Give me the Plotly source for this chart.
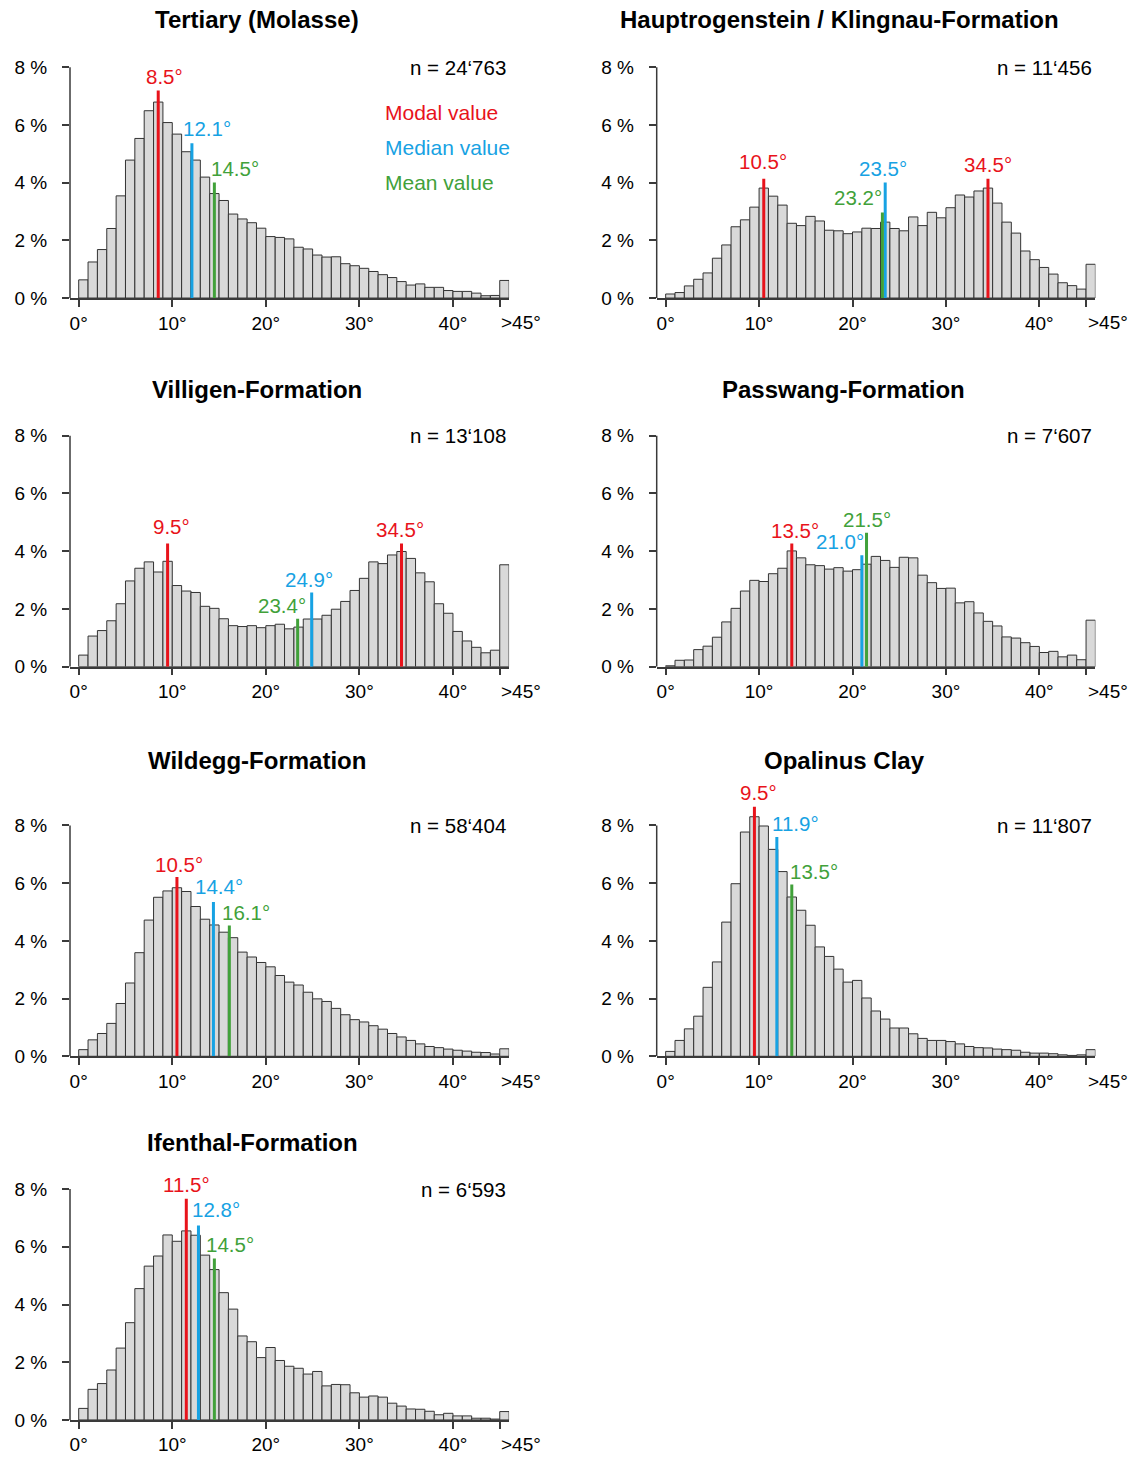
import plotly.graph_objects as go

# ---------------- data ----------------
angle_bins = list(range(46))          # lower edge of 1° classes; class 45 = ">45°"
x_tick_vals = [0, 10, 20, 30, 40, 45]
x_tick_text = ["0°", "10°", "20°", "30°", "40°", ""]
last_class_label = ">45°"
y_tick_vals = [0, 2, 4, 6, 8]
y_tick_text = ["0 %", "2 %", "4 %", "6 %", "8 %"]

titles = ["Tertiary (Molasse)", "Hauptrogenstein / Klingnau-Formation",
          "Villigen-Formation", "Passwang-Formation",
          "Wildegg-Formation", "Opalinus Clay", "Ifenthal-Formation"]
sample_sizes = ["24‘763", "11‘456", "13‘108", "7‘607", "58‘404", "11‘807", "6‘593"]

tertiary = [0.63, 1.25, 1.68, 2.41, 3.54, 4.78, 5.53, 6.49, 6.79, 6.08,
            5.68, 5.07, 4.78, 4.19, 3.62, 3.38, 2.91, 2.74, 2.61, 2.42,
            2.13, 2.10, 2.05, 1.76, 1.70, 1.49, 1.42, 1.43, 1.19, 1.12,
            1.03, 0.92, 0.81, 0.71, 0.57, 0.45, 0.49, 0.37, 0.37, 0.26,
            0.23, 0.23, 0.17, 0.08, 0.09, 0.61]
hauptrogenstein = [0.14, 0.19, 0.42, 0.65, 0.87, 1.38, 1.84, 2.47, 2.71, 3.15,
                   3.81, 3.53, 3.22, 2.59, 2.51, 2.83, 2.67, 2.35, 2.33, 2.23,
                   2.29, 2.42, 2.41, 2.63, 2.41, 2.33, 2.81, 2.51, 2.97, 2.78,
                   3.13, 3.57, 3.50, 3.71, 3.81, 3.29, 2.63, 2.25, 1.63, 1.33,
                   1.06, 0.83, 0.53, 0.43, 0.31, 1.17]
villigen = [0.40, 1.06, 1.25, 1.59, 2.18, 2.97, 3.41, 3.63, 3.28, 3.65,
            2.81, 2.62, 2.57, 2.09, 2.02, 1.66, 1.42, 1.39, 1.42, 1.35,
            1.42, 1.47, 1.31, 1.37, 1.65, 1.65, 1.78, 1.99, 2.26, 2.64,
            3.06, 3.63, 3.57, 3.87, 3.99, 3.75, 3.25, 2.94, 2.18, 1.85,
            1.22, 0.89, 0.67, 0.48, 0.57, 3.53]
passwang = [0.03, 0.22, 0.23, 0.59, 0.71, 1.02, 1.55, 2.02, 2.62, 2.99,
            2.95, 3.22, 3.41, 4.01, 3.77, 3.53, 3.50, 3.38, 3.43, 3.31,
            3.36, 3.55, 3.82, 3.68, 3.44, 3.79, 3.77, 3.17, 2.91, 2.71,
            2.72, 2.21, 2.25, 1.86, 1.57, 1.41, 1.03, 0.99, 0.83, 0.70,
            0.49, 0.53, 0.34, 0.40, 0.24, 1.61]
wildegg = [0.23, 0.57, 0.79, 1.14, 1.83, 2.54, 3.59, 4.72, 5.51, 5.73,
           5.84, 5.71, 5.19, 4.75, 4.55, 4.30, 4.11, 3.61, 3.44, 3.25,
           3.10, 2.80, 2.57, 2.47, 2.22, 1.99, 1.90, 1.66, 1.44, 1.27,
           1.19, 1.06, 0.94, 0.79, 0.67, 0.55, 0.43, 0.34, 0.30, 0.25,
           0.21, 0.18, 0.14, 0.13, 0.08, 0.26]
opalinus = [0.17, 0.55, 0.95, 1.39, 2.39, 3.27, 4.65, 5.98, 7.77, 8.30,
            7.98, 7.17, 6.40, 5.52, 5.06, 4.54, 3.79, 3.46, 3.02, 2.57,
            2.63, 2.02, 1.57, 1.29, 0.98, 0.98, 0.78, 0.62, 0.55, 0.55,
            0.51, 0.43, 0.34, 0.30, 0.29, 0.25, 0.23, 0.21, 0.14, 0.11,
            0.11, 0.09, 0.05, 0.03, 0.05, 0.23]
ifenthal = [0.40, 1.06, 1.26, 1.73, 2.49, 3.37, 4.55, 5.33, 5.68, 6.41,
            6.19, 6.55, 6.40, 5.71, 5.21, 4.41, 3.84, 2.91, 2.71, 2.16,
            2.51, 2.06, 1.86, 1.79, 1.59, 1.68, 1.18, 1.23, 1.22, 0.94,
            0.79, 0.83, 0.79, 0.58, 0.48, 0.38, 0.37, 0.30, 0.18, 0.23,
            0.14, 0.14, 0.06, 0.06, 0.03, 0.29]
series = [tertiary, hauptrogenstein, villigen, passwang, wildegg, opalinus, ifenthal]

modal_values = [[8.5], [10.5, 34.5], [9.5, 34.5], [13.5], [10.5], [9.5], [11.5]]
median_values = [12.1, 23.5, 24.9, 21.0, 14.4, 11.9, 12.8]
mean_values = [14.5, 23.2, 23.4, 21.5, 16.1, 13.5, 14.5]

# ---------------- marker line heights and label placement (layout) ----------------
# per panel: (line_top, label_x, label_y)
mode_marks = [[(7.19, 9.15, 7.66)],
              [(4.13, 10.46, 4.73), (4.13, 34.51, 4.64)],
              [(4.27, 9.97, 4.86), (4.27, 34.37, 4.74)],
              [(4.27, 13.81, 4.72)],
              [(6.21, 10.68, 6.65)],
              [(8.65, 9.96, 9.15)],
              [(7.66, 11.50, 8.17)]]
median_marks = [(5.36, 13.68, 5.86), (4.00, 23.23, 4.49), (2.57, 24.64, 3.02),
                (3.86, 18.67, 4.33), (5.35, 15.03, 5.90), (7.60, 13.85, 8.08),
                (6.74, 14.67, 7.30)]
mean_marks = [(4.00, 16.70, 4.48), (2.96, 20.56, 3.47), (1.66, 21.69, 2.13),
              (4.64, 21.56, 5.10), (4.53, 17.84, 4.99), (5.95, 15.92, 6.39),
              (5.59, 16.17, 6.09)]

RED, BLUE, GREEN = "#e8131b", "#17a2e3", "#41a13a"
FONT = "Liberation Sans, Arial, sans-serif"
AXIS_COLOR = "#3a3a3a"
TEXT = "#000000"

W, H = 1131, 1463
col_px = [(70.0, 509.1), (656.7, 1095.4)]
x_ranges = [[-0.93, 46], [-0.96, 46]]
row_base_px = [300.3, 671.7, 1064.3, 1430.7]
px_per_pct = 29.08
y_max = 9.5
title_px = [(256.5, 20), (839, 20), (256.5, 392), (843.5, 392),
            (256.5, 766), (844, 766), (252, 1151)]
last_label_pos = 47.3   # degrees, centre of the ">45°" label
tick_font = dict(family=FONT, size=19, color=TEXT)

fig = go.Figure()
annotations = []
shapes = []
layout = {}

for k, vals in enumerate(series):
    i = k + 1
    row, col = k // 2, k % 2
    xs = "x" if i == 1 else f"x{i}"
    ys = "y" if i == 1 else f"y{i}"
    xname = "xaxis" if i == 1 else f"xaxis{i}"
    yname = "yaxis" if i == 1 else f"yaxis{i}"
    x0, x1 = col_px[col]
    base = row_base_px[row]
    top = base - y_max * px_per_pct

    layout[xname] = dict(
        domain=[x0 / W, x1 / W], range=x_ranges[col], anchor=ys,
        tickmode="array", tickvals=x_tick_vals, ticktext=x_tick_text,
        ticks="outside", ticklen=7, tickwidth=1.5, tickcolor=AXIS_COLOR,
        showline=True, linecolor=AXIS_COLOR, linewidth=1.5,
        showgrid=False, zeroline=False, ticklabelstandoff=0,
        tickfont=tick_font, fixedrange=True)
    layout[yname] = dict(
        domain=[1 - base / H, 1 - top / H], range=[0, y_max], anchor=xs,
        tickmode="array", tickvals=y_tick_vals, ticktext=y_tick_text,
        ticks="outside", ticklen=7, tickwidth=1.5, tickcolor=AXIS_COLOR,
        showline=False, showgrid=False, zeroline=False, ticklabelstandoff=11,
        tickfont=tick_font, fixedrange=True)

    fig.add_trace(go.Bar(
        x=[b + 0.5 for b in angle_bins], y=vals, width=1, xaxis=xs, yaxis=ys,
        marker=dict(color="#d9d9d9", line=dict(color="#333333", width=1)),
        showlegend=False, hoverinfo="x+y"))

    # y-axis line only from 0 % to 8 %
    shapes.append(dict(type="line", xref=f"{xs} domain", yref=ys,
                       x0=0, x1=0, y0=0, y1=8,
                       line=dict(color=AXIS_COLOR, width=1.5)))

    marks = []
    for v, m in zip(modal_values[k], mode_marks[k]):
        marks.append((v, m, RED))
    marks.append((median_values[k], median_marks[k], BLUE))
    marks.append((mean_values[k], mean_marks[k], GREEN))
    for v, (ltop, lx, ly), c in marks:
        fig.add_trace(go.Scatter(x=[v, v], y=[0, ltop], mode="lines",
                                 line=dict(color=c, width=3), xaxis=xs, yaxis=ys,
                                 showlegend=False, hoverinfo="skip"))
        annotations.append(dict(x=lx, y=ly, xref=xs, yref=ys, text=f"{v:.1f}°",
                                showarrow=False, xanchor="center", yanchor="middle",
                                font=dict(family=FONT, size=20.5, color=c)))

    annotations.append(dict(x=45.85, y=8, xref=xs, yref=ys, text=f"n = {sample_sizes[k]}",
                            showarrow=False, xanchor="right", yanchor="middle",
                            font=dict(family=FONT, size=20.5, color=TEXT)))
    # ">45°" class label, placed in paper coordinates (outside the axis range)
    ppd = (x1 - x0) / (x_ranges[col][1] - x_ranges[col][0])
    lab_px = x0 + (last_label_pos - x_ranges[col][0]) * ppd
    annotations.append(dict(x=lab_px / W, y=1 - (base + 25) / H, xref="paper", yref="paper",
                            text=last_class_label, showarrow=False,
                            xanchor="center", yanchor="middle", font=tick_font))
    tx, ty = title_px[k]
    annotations.append(dict(x=tx / W, y=1 - ty / H, xref="paper", yref="paper",
                            text=f"<b>{titles[k]}</b>", showarrow=False,
                            xanchor="center", yanchor="middle",
                            font=dict(family=FONT, size=24, color=TEXT)))

# legend text in first panel
for txt, yv, c in [("Modal value", 6.44, RED), ("Median value", 5.20, BLUE),
                   ("Mean value", 4.00, GREEN)]:
    annotations.append(dict(x=32.5, y=yv, xref="x", yref="y", text=txt,
                            showarrow=False, xanchor="left", yanchor="middle",
                            font=dict(family=FONT, size=21, color=c)))

fig.update_layout(width=W, height=H, margin=dict(l=0, r=0, t=0, b=0),
                  paper_bgcolor="white", plot_bgcolor="white",
                  annotations=annotations, shapes=shapes, barmode="overlay",
                  **layout)

fig.write_html("out.html", config={"displayModeBar": False},
               post_script="document.body.style.margin='0';document.body.style.overflow='hidden';")
